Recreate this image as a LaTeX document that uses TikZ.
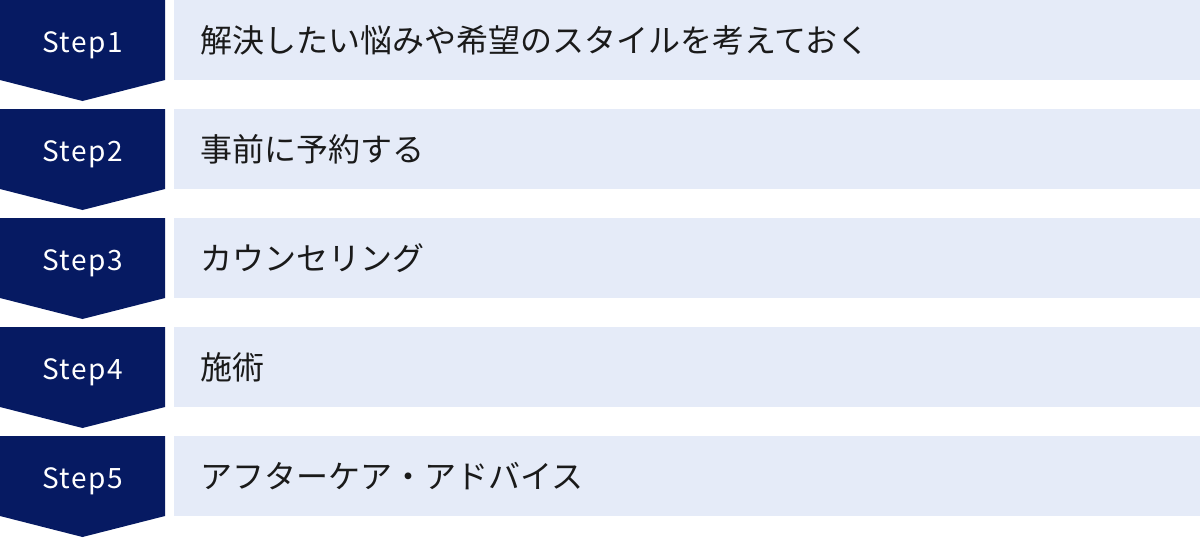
\documentclass[tikz,border=0pt]{standalone}
\usepackage{fontspec}
\newfontfamily\jpspaced{Noto Sans CJK JP}
\newfontfamily\stepfont[LetterSpace=5]{Noto Sans CJK JP}
\definecolor{navy}{HTML}{061A62}
\definecolor{pale}{HTML}{E5EBF8}
\definecolor{ink}{HTML}{1A1A1A}
\tikzset{
  steplabel/.style={text=white, font=\stepfont\fontsize{28}{32}\selectfont, inner sep=0pt, anchor=base},
  desclabel/.style={text=ink, font=\jpspaced\fontsize{32}{38}\selectfont, inner sep=0pt, anchor=base west},
}
\begin{document}
\begin{tikzpicture}[x=1pt,y=-1pt]
\useasboundingbox (0,0) rectangle (1200,538);
\foreach \i/\txt in {0/{解決したい悩みや希望のスタイルを考えておく},1/{事前に予約する},2/{カウンセリング},3/{施術},4/{アフターケア・アドバイス}}{
  \pgfmathsetmacro{\t}{109*\i}
  \fill[navy] (0,\t) -- (165,\t) -- (165,\t+80) -- (82.5,\t+101) -- (0,\t+80) -- cycle;
  \fill[pale] (174,\t) rectangle (1200,\t+80);
  \pgfmathtruncatemacro{\n}{\i+1}
  \node[steplabel] (s\n) at (82.5,\t+52) {Step\n};
  \node[desclabel] (d\n) at (200,\t+52) {\txt};
}
\end{tikzpicture}
\end{document}
